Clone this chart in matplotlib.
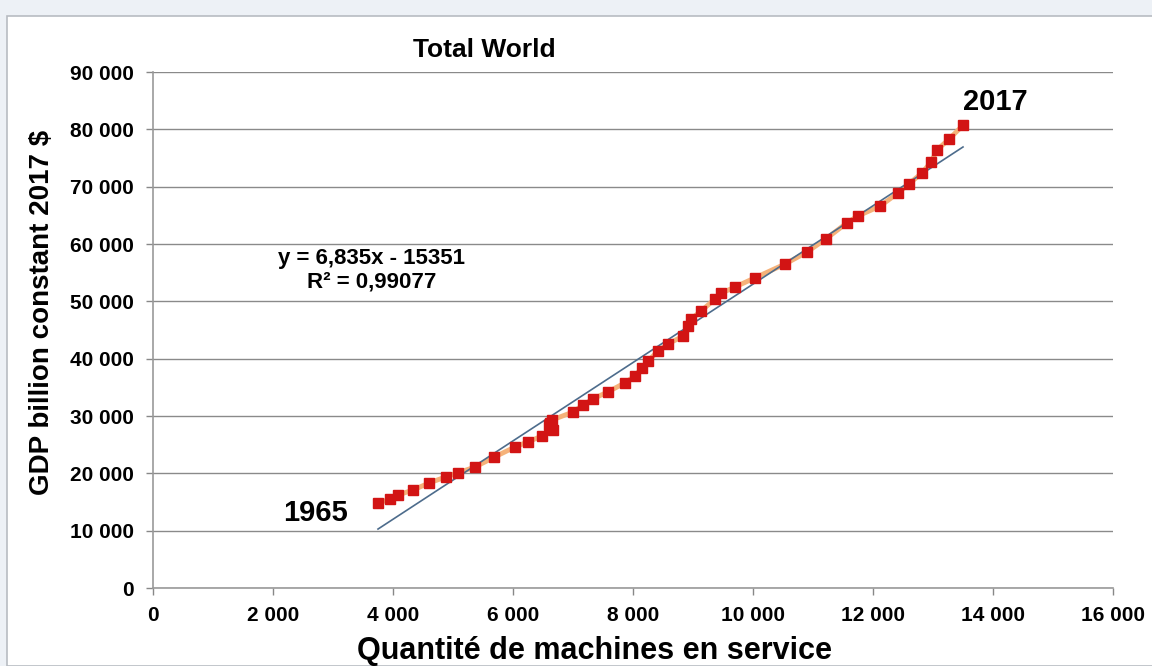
import numpy as np
import matplotlib.pyplot as plt
from matplotlib.patches import Rectangle
from matplotlib.ticker import FuncFormatter

plt.rcParams['font.family'] = ['Liberation Sans', 'DejaVu Sans']
plt.rcParams['font.weight'] = 'bold'

# energy consumption (Mtoe) and GDP (billion constant 2017 $), 1965 -> 2017
energy = [3750, 3950, 4083, 4333, 4600, 4883, 5083, 5367, 5683, 6033,
          6250, 6483, 6667, 6600, 6617, 6650, 7000, 7167, 7333, 7583,
          7867, 8033, 8150, 8250, 8417, 8583, 8833, 8917, 8967, 9133,
          9367, 9467, 9700, 10033, 10533, 10900, 11217, 11567, 11750, 12117,
          12417, 12600, 12817, 12967, 13067, 13267, 13500]
gdp = [14800, 15500, 16200, 17100, 18300, 19400, 20100, 21100, 22800, 24600,
       25500, 26500, 27600, 28400, 28800, 29300, 30700, 31900, 33000, 34200,
       35800, 37000, 38400, 39600, 41300, 42600, 43900, 45700, 46900, 48300,
       50400, 51400, 52500, 54100, 56500, 58600, 60900, 63700, 64900, 66600,
       68900, 70500, 72400, 74300, 76400, 78300, 80700]

slope = 6.835
intercept = -15351
r2_text = "0,99077"
years = ["1965", "2017"]

fig = plt.figure(figsize=(11.52, 6.66), dpi=100)
fig.patch.set_facecolor('#edf1f6')
# white panel with thin border, behind everything
panel = Rectangle((7 / 1152, 0), 1.0, 1 - 16 / 666, transform=fig.transFigure,
                  facecolor='white', edgecolor='#b8bcc2', linewidth=1.2, zorder=-10)
fig.add_artist(panel)

ax = fig.add_axes([153 / 1152, 1 - 588 / 666, 960 / 1152, 516 / 666])
ax.set_facecolor('none')
ax.set_zorder(5)

# trend line
xt = np.array([energy[0], energy[-1]])
ax.plot(xt, slope * xt + intercept, color='#4d6c8c', linewidth=1.2, zorder=3)

# data
ax.plot(energy, gdp, color='#f5b27a', linewidth=3.5, zorder=2)
ax.plot(energy, gdp, linestyle='none', marker='s', markersize=6.5,
        color='#d21414', markeredgecolor='#d21414', zorder=4)

ax.set_xlim(0, 16000)
ax.set_ylim(0, 90000)
ax.set_xticks(np.arange(0, 16001, 2000))
ax.set_yticks(np.arange(0, 90001, 10000))
fmt = FuncFormatter(lambda v, p: f"{int(v):,}".replace(",", " "))
ax.xaxis.set_major_formatter(fmt)
ax.yaxis.set_major_formatter(fmt)
ax.tick_params(axis='both', labelsize=15, colors='#888888', labelcolor='black', length=5, width=1)
ax.tick_params(axis='x', pad=8)
ax.tick_params(axis='y', pad=9)
ax.grid(axis='y', color='#8a8a8a', linewidth=1)
ax.set_axisbelow(True)
for s in ['top', 'right']:
    ax.spines[s].set_visible(False)
for s in ['left', 'bottom']:
    ax.spines[s].set_color('#9a9a9a')
    ax.spines[s].set_linewidth(1.2)

ax.set_title("Total World", fontsize=19, fontweight='bold', x=0.345, pad=11)
ax.set_ylabel("GDP billion constant 2017 $", fontsize=20, fontweight='bold')
ax.yaxis.set_label_coords(-0.102, 0.535)
ax.set_xlabel("Quantité de machines en service", fontsize=22, fontweight='bold')
ax.xaxis.set_label_coords(0.46, -0.093)

ax.text(3650, 57550, f"y = {slope:.3f}x - {abs(intercept)}".replace(".", ","),
        fontsize=16, fontweight='bold', ha='center', va='center')
ax.text(3650, 53400, f"R² = {r2_text}", fontsize=16, fontweight='bold', ha='center', va='center')

ax.annotate(years[0], (energy[0], gdp[0]), xytext=(-45, -7), textcoords='offset points',
            fontsize=21, fontweight='bold', ha='center', va='center')
ax.annotate(years[1], (energy[-1], gdp[-1]), xytext=(23, 17), textcoords='offset points',
            fontsize=21, fontweight='bold', ha='center', va='center')

fig.savefig("out.png", dpi=100, facecolor=fig.get_facecolor())
